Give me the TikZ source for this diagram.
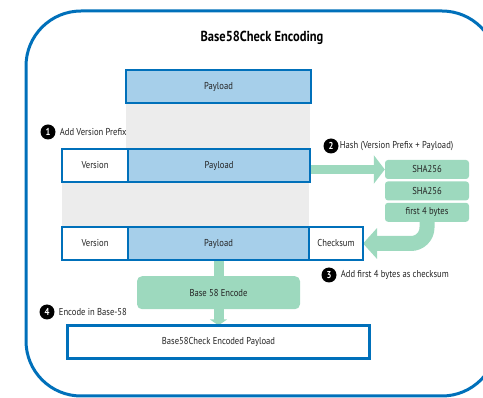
\documentclass[tikz,border=0pt]{standalone}
\usepackage{fontspec}
\setmainfont{PT Sans}[FakeStretch=0.86]
\usepackage{tikz}
\usetikzlibrary{arrows.meta, positioning, backgrounds}
\definecolor{frameblue}{RGB}{0, 112, 186}
\definecolor{payloadfill}{RGB}{166, 207, 234}
\definecolor{hashgreen}{RGB}{157, 217, 190}
\definecolor{funnelgray}{RGB}{236, 236, 236}
\definecolor{inktext}{RGB}{35, 35, 35}
\tikzset{
  font=\fontsize{10}{12}\selectfont,
  node distance=2pt and 0pt,
  fieldblock/.style={
    rectangle, draw=frameblue, line width=2.4pt, outer sep=0pt,
    inner sep=0pt, minimum height=33pt, text=inktext
  },
  versionblock/.style={fieldblock, fill=white, minimum width=66pt},
  payloadblock/.style={fieldblock, fill=payloadfill, minimum width=182pt},
  hashblock/.style={
    rectangle, rounded corners=3pt, fill=hashgreen, inner sep=0pt,
    minimum width=84pt, minimum height=19pt, text=inktext
  },
  stepnum/.style={
    circle, fill=black, text=white, inner sep=0pt, minimum size=15pt,
    font=\fontsize{10}{12}\selectfont\bfseries
  },
  steplabel/.style={inner sep=0pt, text=inktext},
  hashflow/.style={
    draw=hashgreen, line width=9pt, -{Triangle[length=11pt, width=28pt]}
  },
  checkflow/.style={
    draw=hashgreen, line width=15pt, rounded corners=16pt,
    -{Triangle[length=14pt, width=30pt]}
  },
  encbar/.style={draw=hashgreen, line width=10pt},
  encflow/.style={
    draw=hashgreen, line width=10pt, -{Triangle[length=6pt, width=17pt]}
  },
  funnel/.style={fill=funnelgray}
}

\begin{document}
\begin{tikzpicture}[x=1pt, y=-1pt]
  \useasboundingbox (0,0) rectangle (483,398);
  \clip (0,0) rectangle (483,398);
  \draw[frameblue, line width=3pt, rounded corners=55pt] (26,11) rectangle (497,396);

  \node[font=\fontsize{14.5}{17}\selectfont\bfseries, text=black] (title) at (262,38) {Base58Check Encoding};

  % payload, then version + payload, then version + payload + checksum
  \node[payloadblock, minimum width=185pt] (pay1) at (218.5,86.5) {Payload};
  \node[versionblock] (ver2) at (95,165.5) {Version};
  \node[payloadblock, right=of ver2] (pay2) {Payload};
  \node[versionblock, below=45pt of ver2] (ver3) {Version};
  \node[payloadblock, minimum width=181pt, right=of ver3] (pay3) {Payload};
  \node[fieldblock, fill=white, minimum width=54pt, right=of pay3] (chk) {Checksum};

  % double hash
  \node[hashblock] (sha1) at (427,169.5) {SHA256};
  \node[hashblock, below=of sha1] (sha2) {SHA256};
  \node[hashblock, below=of sha2] (fb) {first 4 bytes};

  \node[hashblock, rounded corners=5pt, minimum width=163pt, minimum height=33pt, below=16pt of pay3] (enc) {Base 58 Encode};
  \node[fieldblock, fill=white, minimum width=302pt, below=16pt of enc] (final) {Base58Check Encoded Payload};

  % step markers
  \node[stepnum] (n1) at (48,132) {1};
  \node[steplabel, right=4pt of n1] (l1) {Add Version Prefix};
  \node[stepnum] (n2) at (331,146) {2};
  \node[steplabel, right=1pt of n2] (l2) {Hash (Version Prefix + Payload)};
  \node[stepnum] (n3) at (329,275) {3};
  \node[steplabel, right=4pt of n3] (l3) {Add first 4 bytes as checksum};
  \node[stepnum] (n4) at (47,312) {4};
  \node[steplabel, right=4pt of n4] (l4) {Encode in Base-58};

  \begin{scope}[on background layer]
    \fill[funnel] (pay1.south west) rectangle (pay2.north east);
    \fill[funnel] (ver2.south west) rectangle (pay3.north east);
    \draw[hashflow] (sha1.west -| pay2.east) -- (sha1.west);
    \draw[checkflow] (fb.south) |- (chk.east);
    \draw[encbar] (pay3.south) -- (enc.north);
    \draw[encflow] (enc.south) -- (final.north);
  \end{scope}
\end{tikzpicture}
\end{document}
